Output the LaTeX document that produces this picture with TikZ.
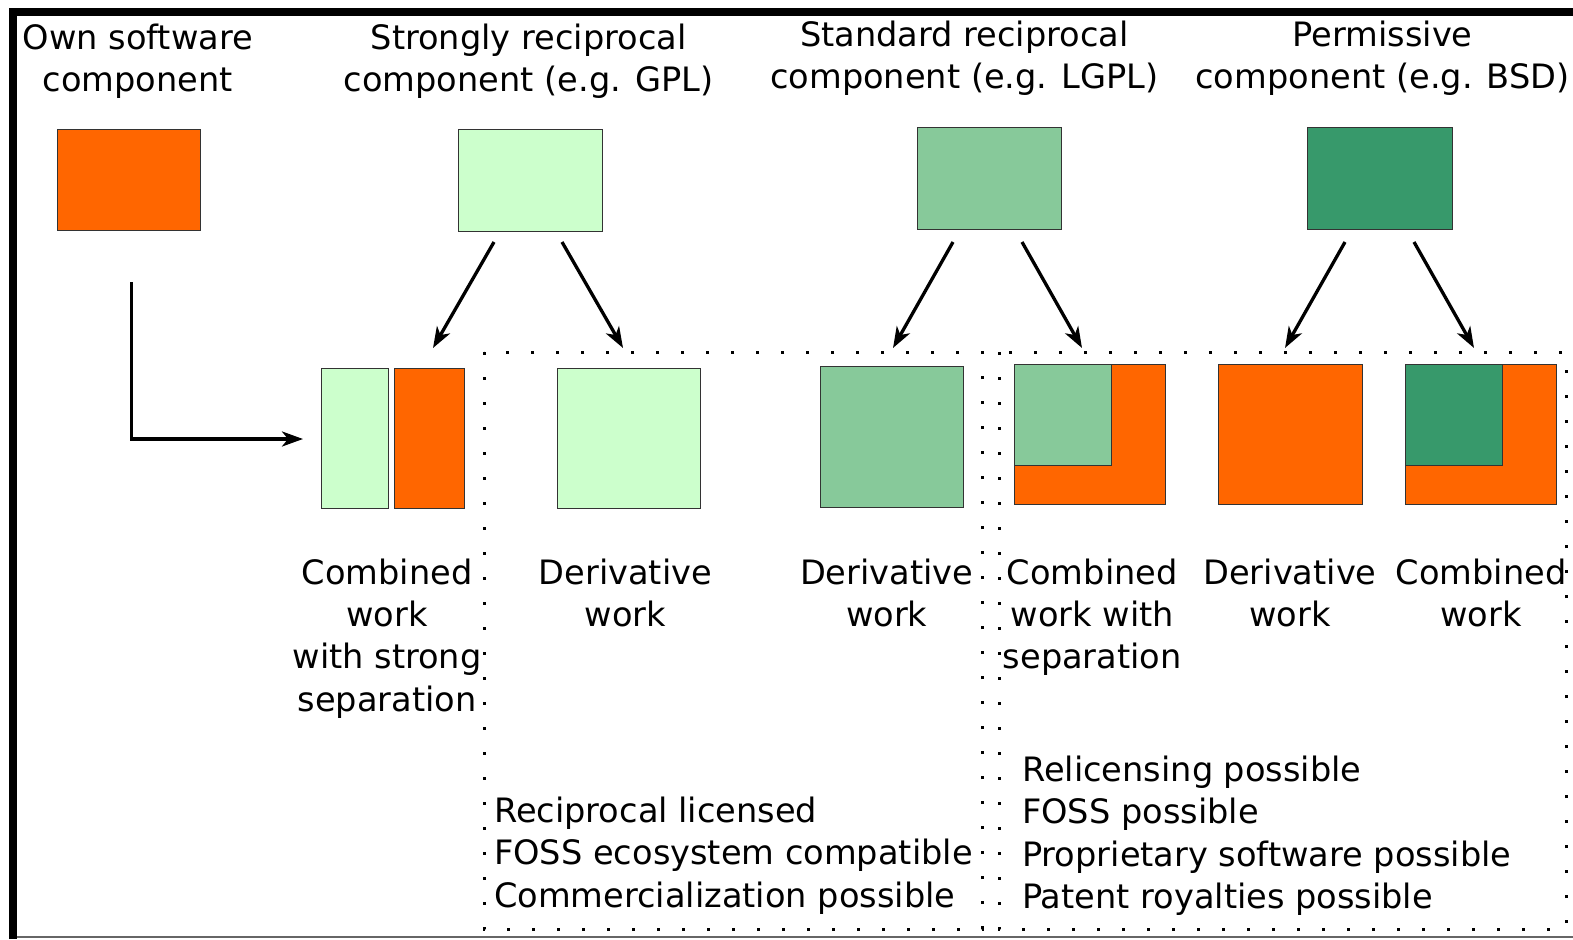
\documentclass[tikz,border=0pt]{standalone}
\usepackage{fontspec}
\setmainfont{DejaVu Sans}
\usetikzlibrary{arrows.meta}
\definecolor{orng}{HTML}{FF6600}
\definecolor{lgreen}{HTML}{CCFFCC}
\definecolor{mgreen}{HTML}{87C99A}
\definecolor{dgreen}{HTML}{37996B}
\newcommand\tstrut{\rule{0pt}{30pt}}
\begin{document}
\begin{tikzpicture}[x=1pt,y=-1pt,
  box/.style={draw=black!80, line width=1.3pt, inner sep=0pt, anchor=north west},
  lbl/.style={inner sep=0pt, align=center, anchor=north, font=\fontsize{33.6pt}{42.3pt}\selectfont},
  txt/.style={inner sep=0pt, align=left, anchor=north west, font=\fontsize{33.6pt}{42.3pt}\selectfont},
  conn/.style={line width=3.3pt, -{Stealth[length=21pt,width=15pt,inset=6pt]}},
  dotline/.style={line width=3pt, dash pattern=on 3pt off 22pt}]
\useasboundingbox (0,0) rectangle (1573,939);
\fill[white] (0,0) rectangle (1573,939);
% frame
\draw[line width=8pt] (13,939) -- (13,12) -- (1573,12);
\draw[black!60, line width=2pt] (17,937) -- (1573,937);
% dotted regions
\draw[dotline] (484,352) rectangle (982,929);
\draw[dotline] (999,352) rectangle (1566,929);
% header labels
\node[lbl] (hown) at (137.8,19) {\tstrut Own software\\component};
\node[lbl] (hgpl) at (528.6,19) {\tstrut Strongly reciprocal\\component (e.g. GPL)};
\node[lbl] (hlgpl) at (964.4,16.5) {\tstrut Standard reciprocal\\component (e.g. LGPL)};
\node[lbl] (hbsd) at (1382.6,16.5) {\tstrut Permissive\\component (e.g. BSD)};
% top boxes
\node[box, fill=orng, minimum width=143pt, minimum height=101pt] (own) at (57,129) {};
\node[box, fill=lgreen, minimum width=144pt, minimum height=102pt] (gpl) at (458,129) {};
\node[box, fill=mgreen, minimum width=144pt, minimum height=102pt] (lgpl) at (917,127) {};
\node[box, fill=dgreen, minimum width=145pt, minimum height=102pt] (bsd) at (1307,127) {};
% bottom boxes
\node[box, fill=lgreen, minimum width=67pt, minimum height=140pt] (csg) at (321,368) {};
\node[box, fill=orng, minimum width=70pt, minimum height=140pt] (cso) at (394,368) {};
\node[box, fill=lgreen, minimum width=143pt, minimum height=140pt] (dgpl) at (557,368) {};
\node[box, fill=mgreen, minimum width=143pt, minimum height=141pt] (dlgpl) at (820,366) {};
\node[box, fill=orng, minimum width=151pt, minimum height=140pt] (cwso) at (1014,364) {};
\node[box, fill=mgreen, minimum width=97pt, minimum height=101pt] (cwsg) at (1014,364) {};
\node[box, fill=orng, minimum width=144pt, minimum height=140pt] (dbsd) at (1218,364) {};
\node[box, fill=orng, minimum width=151pt, minimum height=140pt] (cwo) at (1405,364) {};
\node[box, fill=dgreen, minimum width=97pt, minimum height=101pt] (cwg) at (1405,364) {};
% arrow end points
\coordinate (a0s) at (131.7,282);
\coordinate (a0m) at (131.7,439);
\coordinate (a0e) at (303,439);
\coordinate (a1s) at (494,242); \coordinate (a1e) at (433,348);
\coordinate (a2s) at (562,242); \coordinate (a2e) at (623,348);
\coordinate (a3s) at (953,242); \coordinate (a3e) at (893,348);
\coordinate (a4s) at (1022,242); \coordinate (a4e) at (1082,348);
\coordinate (a5s) at (1345,242); \coordinate (a5e) at (1285,348);
\coordinate (a6s) at (1414,242); \coordinate (a6e) at (1474,348);
\draw[conn] (a0s) -- (a0m) -- (a0e);
\draw[conn] (a1s) -- (a1e);
\draw[conn] (a2s) -- (a2e);
\draw[conn] (a3s) -- (a3e);
\draw[conn] (a4s) -- (a4e);
\draw[conn] (a5s) -- (a5e);
\draw[conn] (a6s) -- (a6e);
% bottom labels
\node[lbl] (l1) at (387,554) {\tstrut Combined\\work\\with strong\\separation};
\node[lbl] (l2) at (625.4,554) {\tstrut Derivative\\work};
\node[lbl] (l3) at (886.7,554) {\tstrut Derivative\\work};
\node[lbl] (l4) at (1092.3,554) {\tstrut Combined\\work with\\separation};
\node[lbl] (l5) at (1290,554) {\tstrut Derivative\\work};
\node[lbl] (l6) at (1481,554) {\tstrut Combined\\work};
% property lists
\node[txt] (p1) at (494,792.4) {\tstrut Reciprocal licensed\\FOSS ecosystem compatible\\Commercialization possible};
\node[txt] (p2) at (1022,751.3) {\tstrut Relicensing possible\\FOSS possible\\Proprietary software possible\\Patent royalties possible};
\end{tikzpicture}
\end{document}
